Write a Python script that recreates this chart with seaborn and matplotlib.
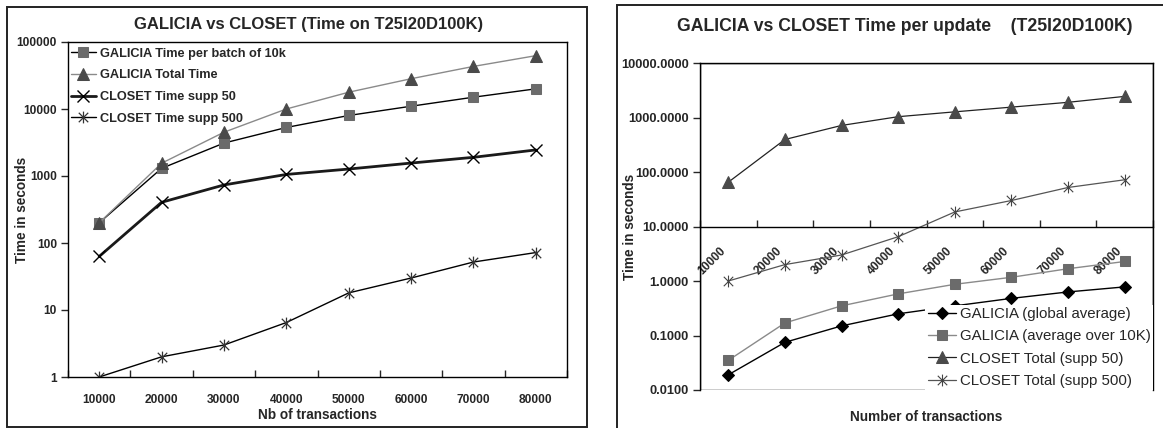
import numpy as np
import pandas as pd
import matplotlib
matplotlib.use("Agg")
import matplotlib.pyplot as plt
from matplotlib.path import Path
from matplotlib.patches import Rectangle
from matplotlib.ticker import FixedLocator, FuncFormatter, NullLocator
import seaborn as sns

# ---------------- data ----------------
categories = ["10000", "20000", "30000", "40000", "50000", "60000", "70000", "80000"]

left_batch = [200, 1300, 3100, 5300, 8000, 11000, 15000, 20000]
left_total = [200, 1550, 4500, 10000, 17800, 28300, 43200, 62500]
left_closet50 = [63, 405, 735, 1055, 1270, 1560, 1900, 2450]
left_closet500 = [1, 2, 3, 6.5, 18, 30, 52, 72]

right_global = [0.019, 0.075, 0.15, 0.25, 0.35, 0.48, 0.63, 0.78]
right_avg10k = [0.035, 0.17, 0.35, 0.58, 0.87, 1.17, 1.68, 2.28]
right_closet50 = [65, 395, 715, 1035, 1270, 1550, 1900, 2440]
right_closet500 = [1, 2, 3, 6.5, 18.5, 30, 52, 72]

left_labels = ["GALICIA Time per batch of 10k", "GALICIA Total Time",
               "CLOSET Time supp 50", "CLOSET Time supp 500"]
right_labels = ["GALICIA (global average)", "GALICIA (average over 10K)",
                "CLOSET Total (supp 50)", "CLOSET Total (supp 500)"]

# ---------------- style ----------------
sns.set_theme(style="white")
plt.rcParams["font.family"] = ["Liberation Sans Narrow", "Liberation Sans", "DejaVu Sans"]
plt.rcParams["axes.linewidth"] = 1.0

# Excel-like star marker: vertical bar + X
star = Path([(0, -1), (0, 1), (-0.8, -0.8), (0.8, 0.8), (-0.8, 0.8), (0.8, -0.8)],
            [Path.MOVETO, Path.LINETO, Path.MOVETO, Path.LINETO, Path.MOVETO, Path.LINETO])

W, H = 1163, 428
fig = plt.figure(figsize=(W / 100, H / 100), dpi=100)


def px_rect(x0, y0, x1, y1):
    return [x0 / W, 1 - y1 / H, (x1 - x0) / W, (y1 - y0) / H]


axL = fig.add_axes(px_rect(68, 42, 567, 377))
axR = fig.add_axes(px_rect(700, 63, 1153, 390))

# panel borders
fig.add_artist(Rectangle((7 / W, 1 - 427 / H), (587 - 7) / W, (427 - 7) / H,
                         transform=fig.transFigure, fill=False, ec="#222222", lw=1.4))
fig.add_artist(Rectangle((617 / W, 1 - 440 / H), (1175 - 617) / W, (440 - 5) / H,
                         transform=fig.transFigure, fill=False, ec="#222222", lw=1.4))


def frame(df_x, y, ax, **kw):
    d = pd.DataFrame({"x": df_x, "y": y})
    sns.lineplot(data=d, x="x", y="y", ax=ax, sort=False, **kw)


# ---------------- left chart ----------------
frame(categories, left_batch, axL, color="black", lw=1.0, marker="s", ms=7,
      mfc="#6b6b6b", mec="#6b6b6b", label=left_labels[0])
frame(categories, left_total, axL, color="#8a8a8a", lw=1.0, marker="^", ms=9,
      mfc="#4a4a4a", mec="#4a4a4a", label=left_labels[1])
frame(categories, left_closet50, axL, color="#1a1a1a", lw=2.0, marker="x", ms=8.5,
      mew=1.0, mec="black", label=left_labels[2])
frame(categories, left_closet500, axL, color="black", lw=1.0, marker=star, ms=8.5,
      mew=0.9, mec="#333333", mfc="none", label=left_labels[3])

axL.set_yscale("log")
axL.set_ylim(1, 100000)
axL.set_xlim(-0.5, len(categories) - 0.5)
axL.yaxis.set_major_locator(FixedLocator([1, 10, 100, 1000, 10000, 100000]))
axL.yaxis.set_minor_locator(NullLocator())
axL.yaxis.set_major_formatter(FuncFormatter(lambda v, p: f"{v:.0f}"))
axL.set_xticks(np.arange(len(categories) + 1) - 0.5, minor=False)
axL.set_xticklabels([])
axL.set_xticks(np.arange(len(categories)), minor=True)
axL.set_xticklabels(categories, minor=True)
axL.tick_params(axis="x", which="major", direction="in", length=5, width=1, bottom=True)
axL.tick_params(axis="x", which="minor", length=0, pad=12, labelsize=8.6)
axL.tick_params(axis="y", direction="out", length=5, width=1, left=True, labelsize=8.6, pad=3)
for lab in axL.get_xticklabels(minor=True) + axL.get_yticklabels():
    lab.set_fontweight("bold")
for s in axL.spines.values():
    s.set_color("black")
    s.set_linewidth(1.0)
axL.set_xlabel("Nb of transactions", fontsize=9.8, fontweight="bold")
axL.set_ylabel("Time in seconds", fontsize=9.8, fontweight="bold")
axL.xaxis.set_label_coords(0.5, -0.093)
axL.yaxis.set_label_coords(-0.078, 0.5)
axL.text(0.483, 1.052, "GALICIA vs CLOSET (Time on T25I20D100K)", transform=axL.transAxes,
         ha="center", va="center", fontsize=12, fontweight="bold")
legL = axL.legend(loc="upper left", bbox_to_anchor=(0.0, 0.99), frameon=False,
                  prop={"size": 9.2, "weight": "bold"}, handlelength=2.0,
                  handletextpad=0.3, labelspacing=0.75, borderpad=0.2, borderaxespad=0.0)

# ---------------- right chart ----------------
frame(categories, right_global, axR, color="black", lw=1.0, marker="D", ms=5.8,
      mfc="black", mec="black", label=right_labels[0])
frame(categories, right_avg10k, axR, color="#8a8a8a", lw=1.0, marker="s", ms=7.5,
      mfc="#6b6b6b", mec="#6b6b6b", label=right_labels[1])
frame(categories, right_closet50, axR, color="#222222", lw=0.9, marker="^", ms=8.5,
      mfc="#4a4a4a", mec="#4a4a4a", label=right_labels[2])
frame(categories, right_closet500, axR, color="#555555", lw=0.9, marker=star, ms=8.5,
      mew=0.8, mec="#444444", mfc="none", label=right_labels[3])

axR.set_yscale("log")
axR.set_ylim(0.01, 10000)
axR.set_xlim(-0.5, len(categories) - 0.5)
axR.yaxis.set_major_locator(FixedLocator([0.01, 0.1, 1, 10, 100, 1000, 10000]))
axR.yaxis.set_minor_locator(NullLocator())
axR.yaxis.set_major_formatter(FuncFormatter(lambda v, p: f"{v:.4f}"))
axR.spines["bottom"].set_position(("data", 10))
axR.add_patch(Rectangle((0, 0), 1, 1, transform=axR.transAxes, fill=False,
                        ec="black", lw=1.0, zorder=2.4))
axR.set_xticks(np.arange(len(categories) + 1) - 0.5, minor=False)
axR.set_xticklabels([])
axR.set_xticks(np.arange(len(categories)), minor=True)
axR.set_xticklabels(categories, minor=True, rotation=45, ha="right", va="top")
axR.tick_params(axis="x", which="major", direction="in", length=5, width=1, bottom=True)
axR.tick_params(axis="x", which="minor", length=0, pad=13, labelsize=8.6)
axR.tick_params(axis="y", direction="out", length=5, width=1, left=True, labelsize=9.3, pad=3)
for lab in axR.get_xticklabels(minor=True) + axR.get_yticklabels():
    lab.set_fontweight("bold")
for s in axR.spines.values():
    s.set_color("black")
    s.set_linewidth(1.0)
axR.set_xlabel("Number of transactions", fontsize=9.8, fontweight="bold")
axR.set_ylabel("Time in seconds", fontsize=9.8, fontweight="bold")
axR.xaxis.set_label_coords(0.5, -0.061)
axR.yaxis.set_label_coords(-0.139, 0.5)
axR.text(0.453, 1.112, "GALICIA vs CLOSET Time per update    (T25I20D100K)",
         transform=axR.transAxes, ha="center", va="center", fontsize=12.7, fontweight="bold")
legR = axR.legend(loc="lower right", bbox_to_anchor=(1.0, 0.0), frameon=True,
                  prop={"size": 10.8}, handlelength=1.9, handletextpad=0.25,
                  labelspacing=0.55, borderpad=0.15, borderaxespad=0.0)
legR.get_frame().set_facecolor("white")
legR.get_frame().set_edgecolor("none")
legR.get_frame().set_alpha(1.0)
legR.get_frame().set_boxstyle("square", pad=0.0)

fig.savefig("out.png", dpi=100)
